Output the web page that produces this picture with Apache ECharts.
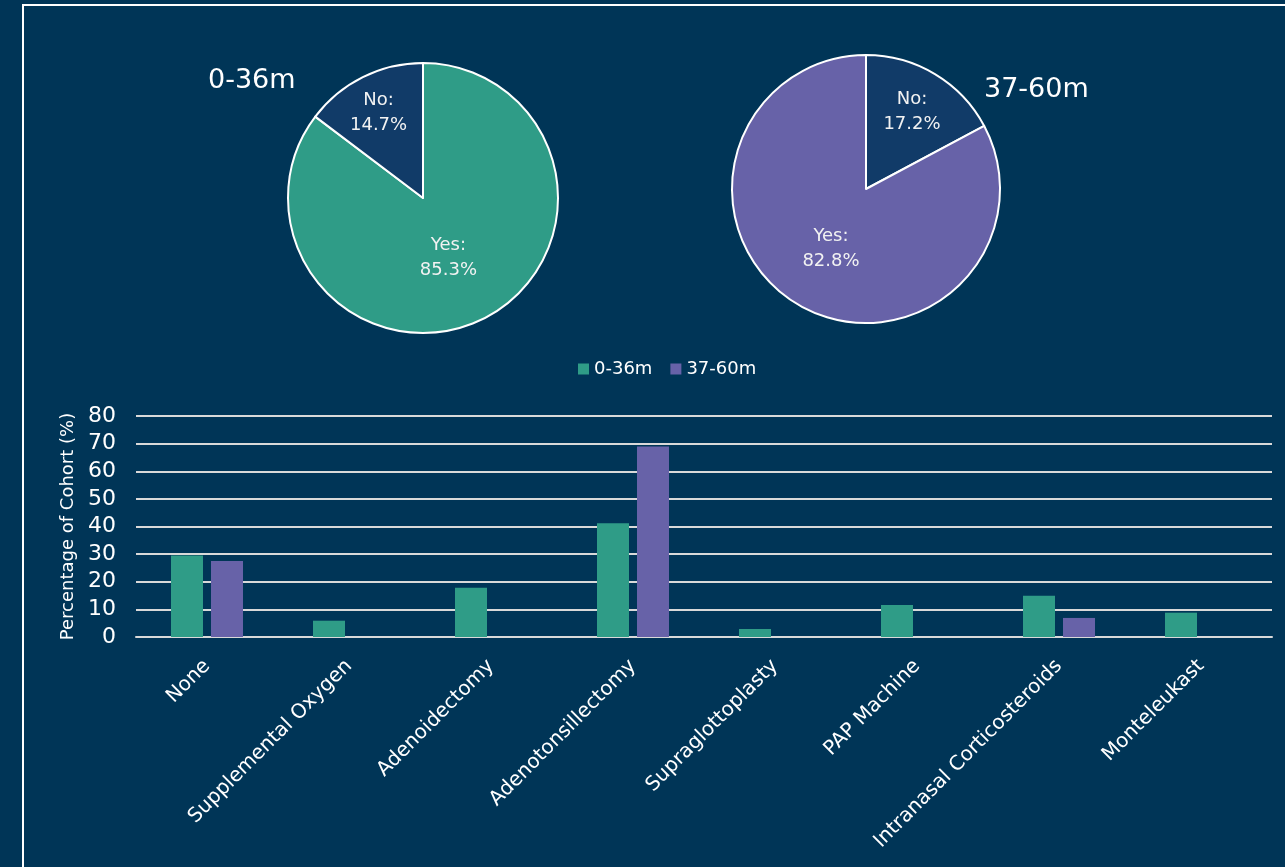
<!DOCTYPE html>
<html><head><meta charset="utf-8">
<script src="https://cdn.jsdelivr.net/npm/echarts@6/dist/echarts.min.js"></script>
<style>html,body{margin:0;padding:0;background:#003557;}#c{width:1285px;height:867px;}</style>
</head><body><div id="c"></div>
<script>
var pieLabels = ['Yes', 'No'];
var pie036 = [85.3, 14.7];
var pie3760 = [82.8, 17.2];
var categories = ['None', 'Supplemental Oxygen', 'Adenoidectomy', 'Adenotonsillectomy', 'Supraglottoplasty', 'PAP Machine', 'Intranasal Corticosteroids', 'Monteleukast'];
var s036 = [29.5, 5.9, 17.8, 41.2, 2.9, 11.6, 14.9, 8.8];
var s3760 = [27.5, 0, 0, 69.0, 0, 0, 6.9, 0];
var yTicks = [0, 10, 20, 30, 40, 50, 60, 70, 80];

var GREEN = '#2f9c87', PURPLE = '#6762a8', NAVY = '#113b68', WHITE = '#ffffff';
var FONT = 'DejaVu Sans';

var chart = echarts.init(document.getElementById('c'));
function pieData(vals, order, yesColor) {
  return order.map(function (i) {
    return { name: pieLabels[i], value: vals[i], itemStyle: { color: pieLabels[i] === 'Yes' ? yesColor : NAVY } };
  });
}
var pieLabel = { show: true, position: 'inside', formatter: '{b}:\n{c}%', color: '#f2f2f2', fontFamily: FONT, fontSize: 18, lineHeight: 25 };
chart.setOption({
  backgroundColor: '#003557',
  animation: false,
  graphic: [{ type: 'rect', shape: { x: 23, y: 5, width: 1400, height: 1000 }, style: { fill: 'none', stroke: WHITE, lineWidth: 2 }, silent: true }],
  title: [
    { text: '0-36m', left: 203, top: 62, textStyle: { color: WHITE, fontFamily: FONT, fontSize: 27, fontWeight: 'normal' } },
    { text: '37-60m', left: 979, top: 71, textStyle: { color: WHITE, fontFamily: FONT, fontSize: 27, fontWeight: 'normal' } }
  ],
  legend: {
    data: ['0-36m', '37-60m'], left: 573, top: 355, itemWidth: 11, itemHeight: 11, itemGap: 18,
    icon: 'rect', textStyle: { color: WHITE, fontFamily: FONT, fontSize: 18 }
  },
  grid: { left: 136, right: 13, top: 416, height: 221 },
  xAxis: {
    type: 'category', data: categories,
    axisLine: { lineStyle: { color: '#d9d9d9', width: 2 } }, axisTick: { show: false },
    axisLabel: { color: WHITE, fontFamily: FONT, fontSize: 20, rotate: 45, margin: 26, interval: 0 }
  },
  yAxis: {
    type: 'value', min: yTicks[0], max: yTicks[yTicks.length - 1], interval: 10,
    name: 'Percentage of Cohort (%)', nameLocation: 'middle', nameGap: 58, nameRotate: 90,
    nameTextStyle: { color: WHITE, fontFamily: FONT, fontSize: 18 },
    axisLine: { show: false }, axisTick: { show: false },
    axisLabel: { color: WHITE, fontFamily: FONT, fontSize: 22, margin: 20 },
    splitLine: { lineStyle: { color: '#d9d9d9', width: 2 } }
  },
  series: [
    { type: 'pie', center: [423, 198], radius: 135, startAngle: 90, clockwise: true,
      data: pieData(pie036, [0, 1], GREEN),
      itemStyle: { borderColor: WHITE, borderWidth: 2 }, label: pieLabel, labelLine: { show: false },
      labelLayout: function (p) { return p.dataIndex === 1 ? { dx: -13, dy: -22 } : { dx: -6, dy: -3 }; } },
    { type: 'pie', center: [866, 189], radius: 134, startAngle: 90, clockwise: true,
      data: pieData(pie3760, [1, 0], PURPLE),
      itemStyle: { borderColor: WHITE, borderWidth: 2 }, label: pieLabel, labelLine: { show: false },
      labelLayout: function (p) { return p.dataIndex === 0 ? { dx: 10, dy: -17 } : { dx: 1, dy: 0 }; } },
    { type: 'bar', name: '0-36m', data: s036, barWidth: 32, barGap: '25%',
      itemStyle: { color: GREEN } },
    { type: 'bar', name: '37-60m', data: s3760, barWidth: 32,
      itemStyle: { color: PURPLE } }
  ]
});
</script></body></html>
